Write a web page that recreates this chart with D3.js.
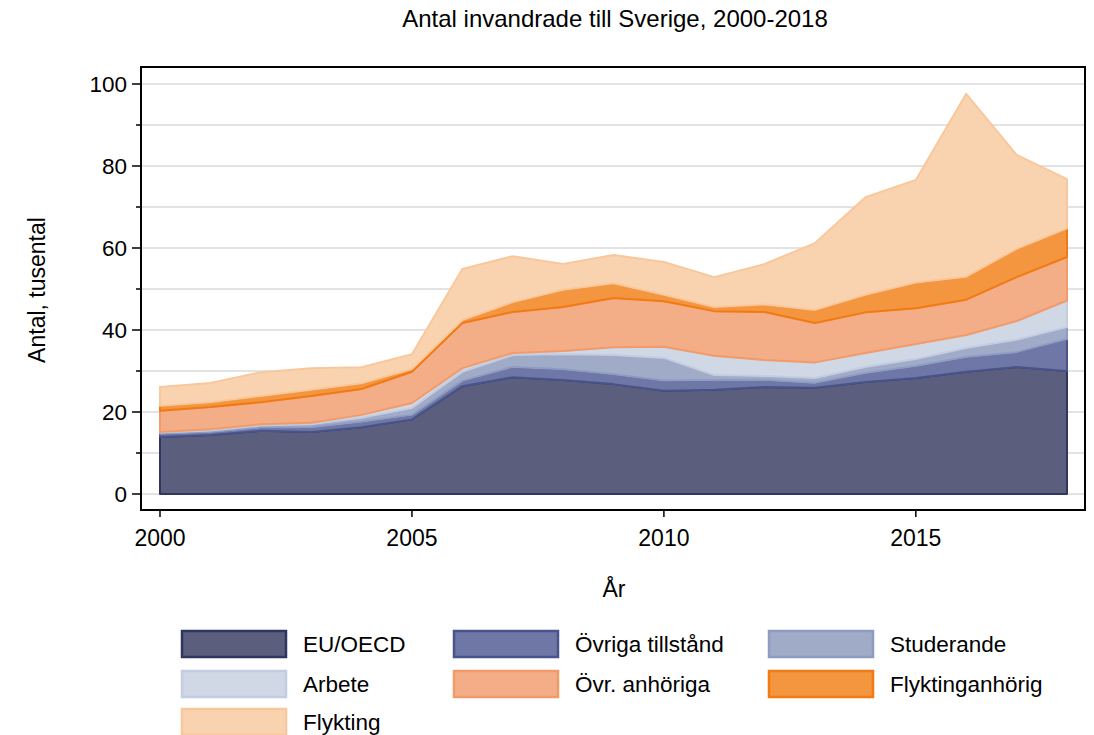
<!DOCTYPE html>
<html>
<head>
<meta charset="utf-8">
<script src="https://cdn.jsdelivr.net/npm/d3@7"></script>
<style>
  body { margin: 0; background: #fff; }
  svg text { font-family: "Liberation Sans", Arial, sans-serif; fill: #000; }
</style>
</head>
<body>
<div id="chart"></div>
<script>
// data, tusental per år
var years = [2000,2001,2002,2003,2004,2005,2006,2007,2008,2009,2010,2011,2012,2013,2014,2015,2016,2017,2018];
var euOecd        = [13.9,14.4,15.4,15.1,16.3,18.2,26.3,28.5,27.8,26.8,25.2,25.4,26.1,25.9,27.3,28.3,29.8,31.0,30.0];
var ovrigaTillst  = [0.8,0.7,0.8,1.2,1.3,1.1,1.3,2.5,2.6,2.4,2.5,2.4,1.7,1.2,2.2,2.9,3.6,3.6,7.8];
var studerande    = [0.3,0.4,0.5,0.7,1.0,1.7,2.2,2.9,3.7,4.7,5.5,1.2,1.0,1.2,1.5,1.7,2.2,3.0,2.9];
var arbete        = [0.1,0.3,0.3,0.4,0.7,1.2,0.9,0.5,0.8,1.9,2.7,4.7,3.9,3.8,3.4,3.7,3.2,4.6,6.5];
var ovrAnhoriga   = [5.2,5.4,5.4,6.5,6.3,7.6,11.0,10.0,10.7,12.0,11.1,10.9,11.7,9.6,9.9,8.7,8.6,10.7,10.6];
var flyktAnhorig  = [1.2,1.2,1.5,1.5,1.4,0.7,0.7,2.4,4.2,3.6,1.6,1.0,1.8,3.2,4.3,6.3,5.6,6.9,7.0];
var flykting      = [4.6,4.7,5.8,5.3,3.9,3.6,12.5,11.2,6.3,6.9,8.0,7.3,9.9,16.3,23.8,25.0,44.6,22.9,12.0];

var seriesNames = ["EU/OECD","Övriga tillstånd","Studerande","Arbete","Övr. anhöriga","Flyktinganhörig","Flykting"];
var seriesValues = [euOecd, ovrigaTillst, studerande, arbete, ovrAnhoriga, flyktAnhorig, flykting];
var fills   = ["#5b5f7d","#6e77a5","#a0abc8","#d0d7e5","#f3ae88","#f3963f","#f9d3af"];
var strokes = ["#2f365f","#4a548c","#8f9cc2","#c3cce0","#f39b68","#f27a12","#f8c89c"];
var yTicks = [0,20,40,60,80,100];
var xTicks = [2000,2005,2010,2015];

var width = 1094, height = 735;
var frame = {left: 141, right: 1085, top: 67, bottom: 510};

var rows = years.map(function(yr, i){
    var r = {year: yr};
    seriesNames.forEach(function(n, k){ r[n] = seriesValues[k][i]; });
    return r;
});

var x = d3.scaleLinear().domain([2000, 2018]).range([160, 1067]);
var y = d3.scaleLinear().domain([0, 100]).range([494, 84]);

var stack = d3.stack().keys(seriesNames);
var layers = stack(rows);

var svg = d3.select("#chart").append("svg")
    .attr("width", width)
    .attr("height", height);

// title
svg.append("text")
    .attr("x", 615).attr("y", 27)
    .attr("text-anchor", "middle")
    .style("font-size", "24px")
    .text("Antal invandrade till Sverige, 2000-2018");

// gridlines every 10
svg.append("g").selectAll("line")
    .data(d3.range(0, 101, 10))
  .enter().append("line")
    .attr("x1", frame.left).attr("x2", frame.right)
    .attr("y1", function(d){ return y(d); })
    .attr("y2", function(d){ return y(d); })
    .attr("stroke", "#e3e3e3")
    .attr("stroke-width", 2);

// areas
var area = d3.area()
    .x(function(d){ return x(d.data.year); })
    .y0(function(d){ return y(d[0]); })
    .y1(function(d){ return y(d[1]); });

svg.append("g").selectAll("path")
    .data(layers)
  .enter().append("path")
    .attr("d", function(d){ return area(d) ; })
    .attr("fill", function(d, i){ return fills[i]; })
    .attr("stroke", function(d, i){ return strokes[i]; })
    .attr("stroke-width", 2)
    .attr("stroke-linejoin", "round");

// frame
svg.append("rect")
    .attr("x", frame.left).attr("y", frame.top)
    .attr("width", frame.right - frame.left)
    .attr("height", frame.bottom - frame.top)
    .attr("fill", "none")
    .attr("stroke", "#000")
    .attr("stroke-width", 2);

// y axis ticks
var yAxis = svg.append("g");
yAxis.selectAll("line.minor")
    .data(d3.range(10, 100, 20))
  .enter().append("line")
    .attr("x1", frame.left - 5).attr("x2", frame.left)
    .attr("y1", function(d){ return y(d); })
    .attr("y2", function(d){ return y(d); })
    .attr("stroke", "#000").attr("stroke-width", 1.5);
yAxis.selectAll("line.major")
    .data(yTicks)
  .enter().append("line")
    .attr("x1", frame.left - 9).attr("x2", frame.left)
    .attr("y1", function(d){ return y(d); })
    .attr("y2", function(d){ return y(d); })
    .attr("stroke", "#000").attr("stroke-width", 1.5);
yAxis.selectAll("text")
    .data(yTicks)
  .enter().append("text")
    .attr("x", frame.left - 14)
    .attr("y", function(d){ return y(d); })
    .attr("dy", "0.36em")
    .attr("text-anchor", "end")
    .style("font-size", "22.5px")
    .text(function(d){ return d; });

// x axis ticks
var xAxis = svg.append("g");
xAxis.selectAll("line")
    .data(xTicks)
  .enter().append("line")
    .attr("x1", function(d){ return x(d); })
    .attr("x2", function(d){ return x(d); })
    .attr("y1", frame.bottom).attr("y2", frame.bottom + 7)
    .attr("stroke", "#000").attr("stroke-width", 1.5);
xAxis.selectAll("text")
    .data(xTicks)
  .enter().append("text")
    .attr("x", function(d){ return x(d); })
    .attr("y", 546)
    .attr("text-anchor", "middle")
    .style("font-size", "23px")
    .text(function(d){ return d; });

// axis labels
svg.append("text")
    .attr("x", 614).attr("y", 597)
    .attr("text-anchor", "middle")
    .style("font-size", "23px")
    .text("År");

svg.append("text")
    .attr("transform", "translate(45,290) rotate(-90)")
    .attr("text-anchor", "middle")
    .style("font-size", "23px")
    .text("Antal, tusental");

// legend
var legendCols = [181, 453, 768];
var legendRows = [630, 670, 708];
var legend = svg.append("g").selectAll("g")
    .data(seriesNames)
  .enter().append("g")
    .attr("transform", function(d, i){
        return "translate(" + legendCols[i % 3] + "," + legendRows[Math.floor(i / 3)] + ")";
    });

legend.append("rect")
    .attr("x", 1).attr("y", 1)
    .attr("width", 104).attr("height", 26)
    .attr("fill", function(d, i){ return fills[i]; })
    .attr("stroke", function(d, i){ return strokes[i]; })
    .attr("stroke-width", 2.5);

legend.append("text")
    .attr("x", 122).attr("y", 14)
    .attr("dy", "0.36em")
    .style("font-size", "22.5px")
    .text(function(d){ return d; });
</script>
</body>
</html>
